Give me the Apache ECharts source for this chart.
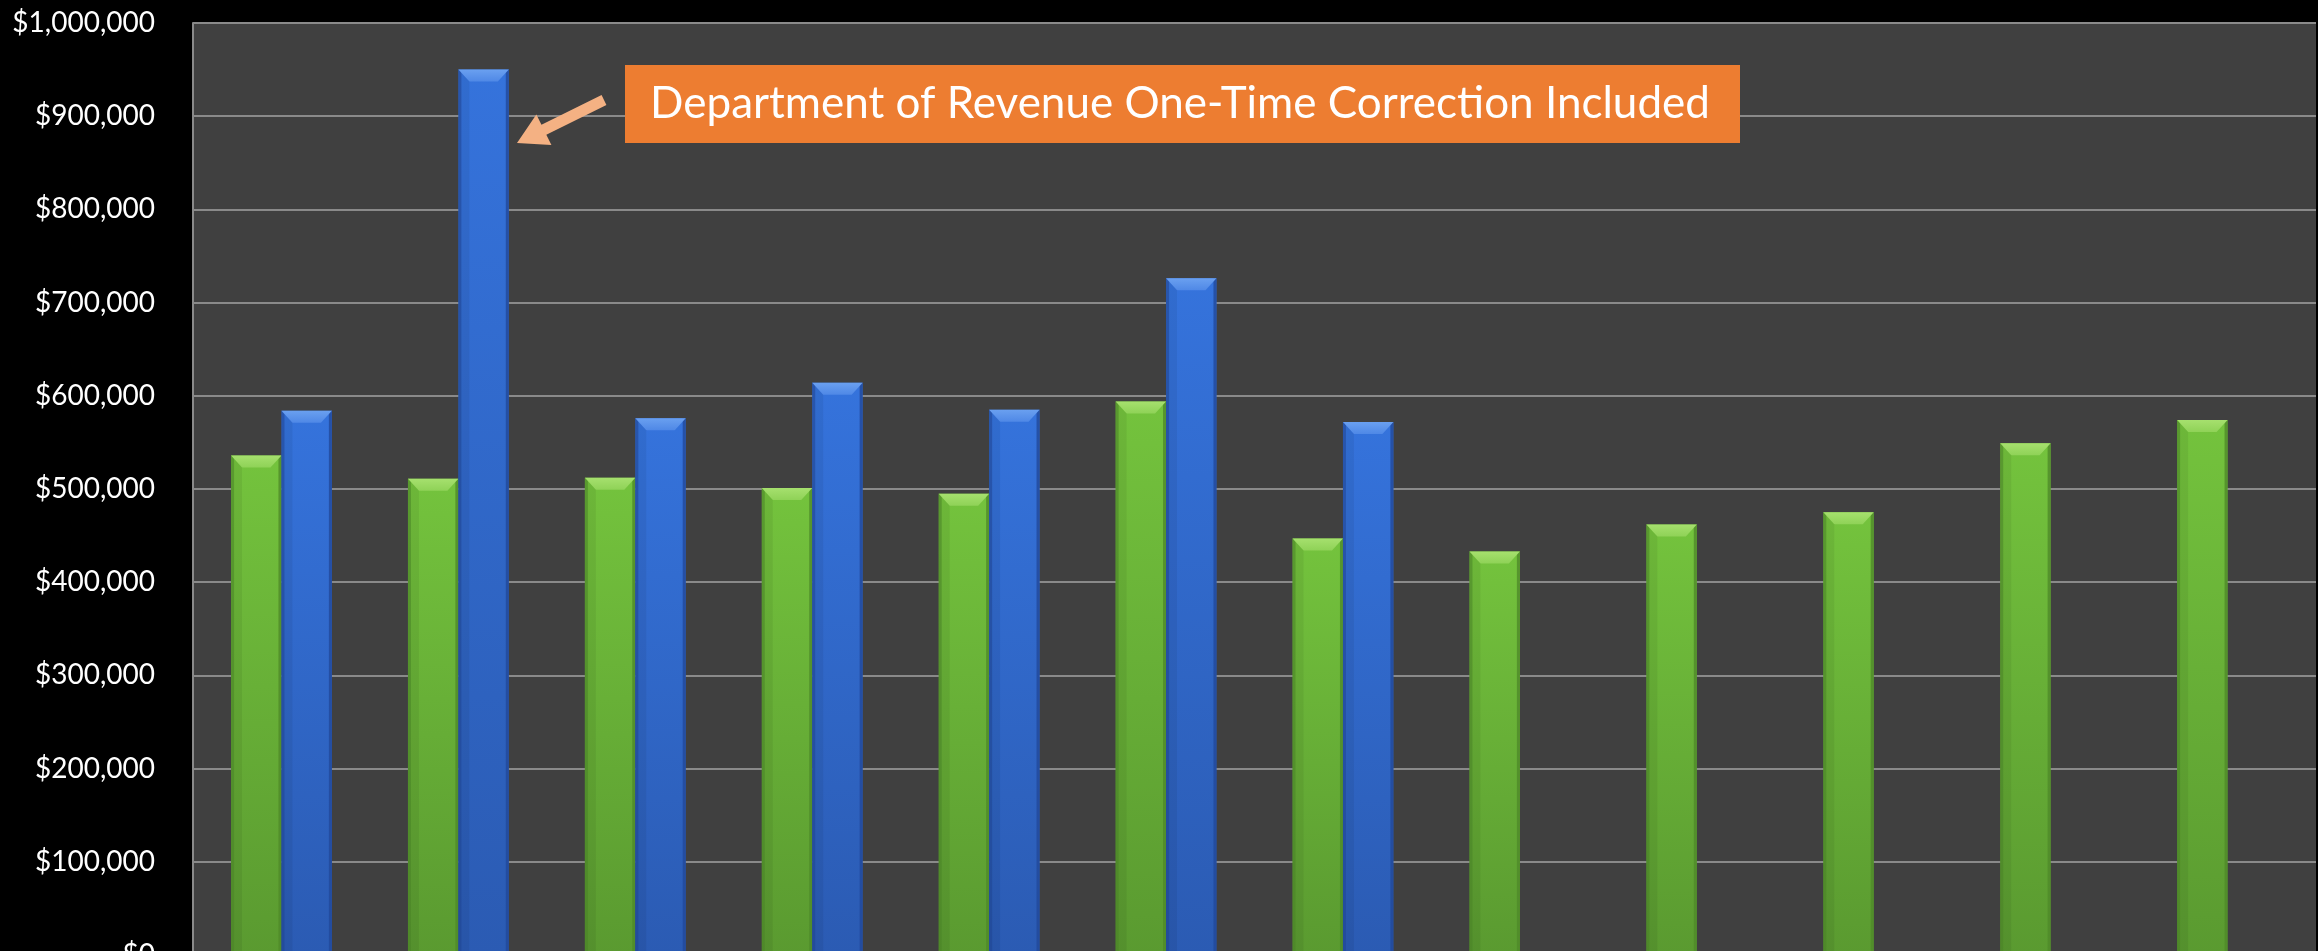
<!DOCTYPE html>
<html>
<head>
<meta charset="utf-8">
<script src="https://cdn.jsdelivr.net/npm/echarts@6/dist/echarts.min.js"></script>
<style>
  html, body { margin: 0; padding: 0; background: #000; }
  #chart { width: 2318px; height: 951px; }
</style>
</head>
<body>
<div id="chart"></div>
<script>
// Monthly revenue, fiscal year July–June
const months = ['Jul', 'Aug', 'Sep', 'Oct', 'Nov', 'Dec', 'Jan', 'Feb', 'Mar', 'Apr', 'May', 'Jun'];
const priorYear = [536000, 511000, 512000, 501000, 495000, 594000, 447000, 433000, 462000, 475000, 549000, 574000];
const currentYear = [584000, 950000, 576000, 614000, 585000, 726000, 572000, null, null, null, null, null];
const yTicks = [0, 100000, 200000, 300000, 400000, 500000, 600000, 700000, 800000, 900000, 1000000];
const noteText = 'Department of Revenue One-Time Correction Included';

const FONT = 'Lato, "Open Sans", sans-serif';

// Palette for the bevelled columns
const styles = {
  green: { top: '#74c33d', bottom: '#5a9a30', cap: '#a6e06e', capEdge: '#8fd257', side: '#4f8a29' },
  blue:  { top: '#3573dc', bottom: '#2b5bb3', cap: '#6aa0f0', capEdge: '#4f88e6', side: '#22489a' }
};

function bevelBar(side, palette) {
  return function (params, api) {
    const v = api.value(1);
    if (v == null || isNaN(v)) return null;
    const cat = api.value(0);
    const top = api.coord([cat, v]);
    const base = api.coord([cat, 0]);
    const band = api.size([1, 0])[0];
    const w = band * 0.285;
    const x = side < 0 ? top[0] - w : top[0];
    const y = top[1];
    const h = base[1] - top[1];
    const cap = Math.min(12, h);
    const inset = Math.min(11, w / 3);
    const edge = 3;
    return {
      type: 'group',
      children: [
        { type: 'rect', shape: { x: x, y: y, width: w, height: h },
          style: { fill: new echarts.graphic.LinearGradient(0, 0, 0, 1, [
            { offset: 0, color: palette.top }, { offset: 1, color: palette.bottom }]) } },
        { type: 'rect', shape: { x: x, y: y, width: edge, height: h },
          style: { fill: palette.side, opacity: 0.55 } },
        { type: 'rect', shape: { x: x + w - edge, y: y, width: edge, height: h },
          style: { fill: palette.side, opacity: 0.8 } },
        { type: 'polygon', shape: { points: [[x, y], [x + w, y], [x + w - inset, y + cap], [x + inset, y + cap]] },
          style: { fill: new echarts.graphic.LinearGradient(0, 0, 0, 1, [
            { offset: 0, color: palette.cap }, { offset: 1, color: palette.capEdge }]) } },
        { type: 'polygon', shape: { points: [[x, y], [x + inset, y + cap], [x + inset, y + h], [x, y + h]] },
          style: { fill: 'rgba(0,0,0,0.06)' } }
      ]
    };
  };
}

// Callout arrow from the note box toward the tall August column
function arrowPoints(tail, tip, shaftHalf, headLen, headHalf) {
  const dx = tip[0] - tail[0], dy = tip[1] - tail[1];
  const len = Math.hypot(dx, dy);
  const ux = dx / len, uy = dy / len;
  const nx = -uy, ny = ux;
  const bx = tip[0] - ux * headLen, by = tip[1] - uy * headLen;
  return [
    [tail[0] + nx * shaftHalf, tail[1] + ny * shaftHalf],
    [bx + nx * shaftHalf, by + ny * shaftHalf],
    [bx + nx * headHalf, by + ny * headHalf],
    tip,
    [bx - nx * headHalf, by - ny * headHalf],
    [bx - nx * shaftHalf, by - ny * shaftHalf],
    [tail[0] - nx * shaftHalf, tail[1] - ny * shaftHalf]
  ];
}

const chart = echarts.init(document.getElementById('chart'));
chart.setOption({
  backgroundColor: '#000000',
  animation: false,
  grid: {
    left: 193, top: 23, width: 2123, height: 932,
    outerBoundsMode: 'none', containLabel: false,
    show: true, backgroundColor: '#404040', borderWidth: 0
  },
  xAxis: {
    type: 'category',
    data: months,
    axisLine: { show: false },
    axisTick: { show: false },
    axisLabel: { show: false }
  },
  yAxis: {
    type: 'value',
    min: yTicks[0],
    max: yTicks[yTicks.length - 1],
    interval: yTicks[1] - yTicks[0],
    axisLine: { show: true, lineStyle: { color: '#8a8a8a', width: 2 } },
    axisTick: { show: false },
    splitLine: { lineStyle: { color: '#8a8a8a', width: 2 } },
    axisLabel: {
      color: '#ffffff', fontFamily: FONT, fontSize: 28, margin: 38,
      formatter: v => '$' + v.toLocaleString('en-US')
    }
  },
  series: [
    { name: 'Prior Year', type: 'custom', renderItem: bevelBar(-1, styles.green),
      data: priorYear.map((v, i) => [i, v]), encode: { x: 0, y: 1 }, z: 3 },
    { name: 'Current Year', type: 'custom', renderItem: bevelBar(1, styles.blue),
      data: currentYear.map((v, i) => [i, v]), encode: { x: 0, y: 1 }, z: 3 }
  ],
  graphic: [
    { type: 'rect', left: 625, top: 65, shape: { width: 1115, height: 78 },
      style: { fill: '#ed7d31' }, z: 10 },
    { type: 'text', x: 1180, y: 104, z: 11,
      style: { text: noteText, fill: '#ffffff', font: '44px ' + FONT,
               textAlign: 'center', textVerticalAlign: 'middle' } },
    { type: 'polygon', z: 10,
      shape: { points: arrowPoints([604, 100], [517, 143], 5.5, 30, 17) },
      style: { fill: '#f4b183' } }
  ]
});
</script>
</body>
</html>
